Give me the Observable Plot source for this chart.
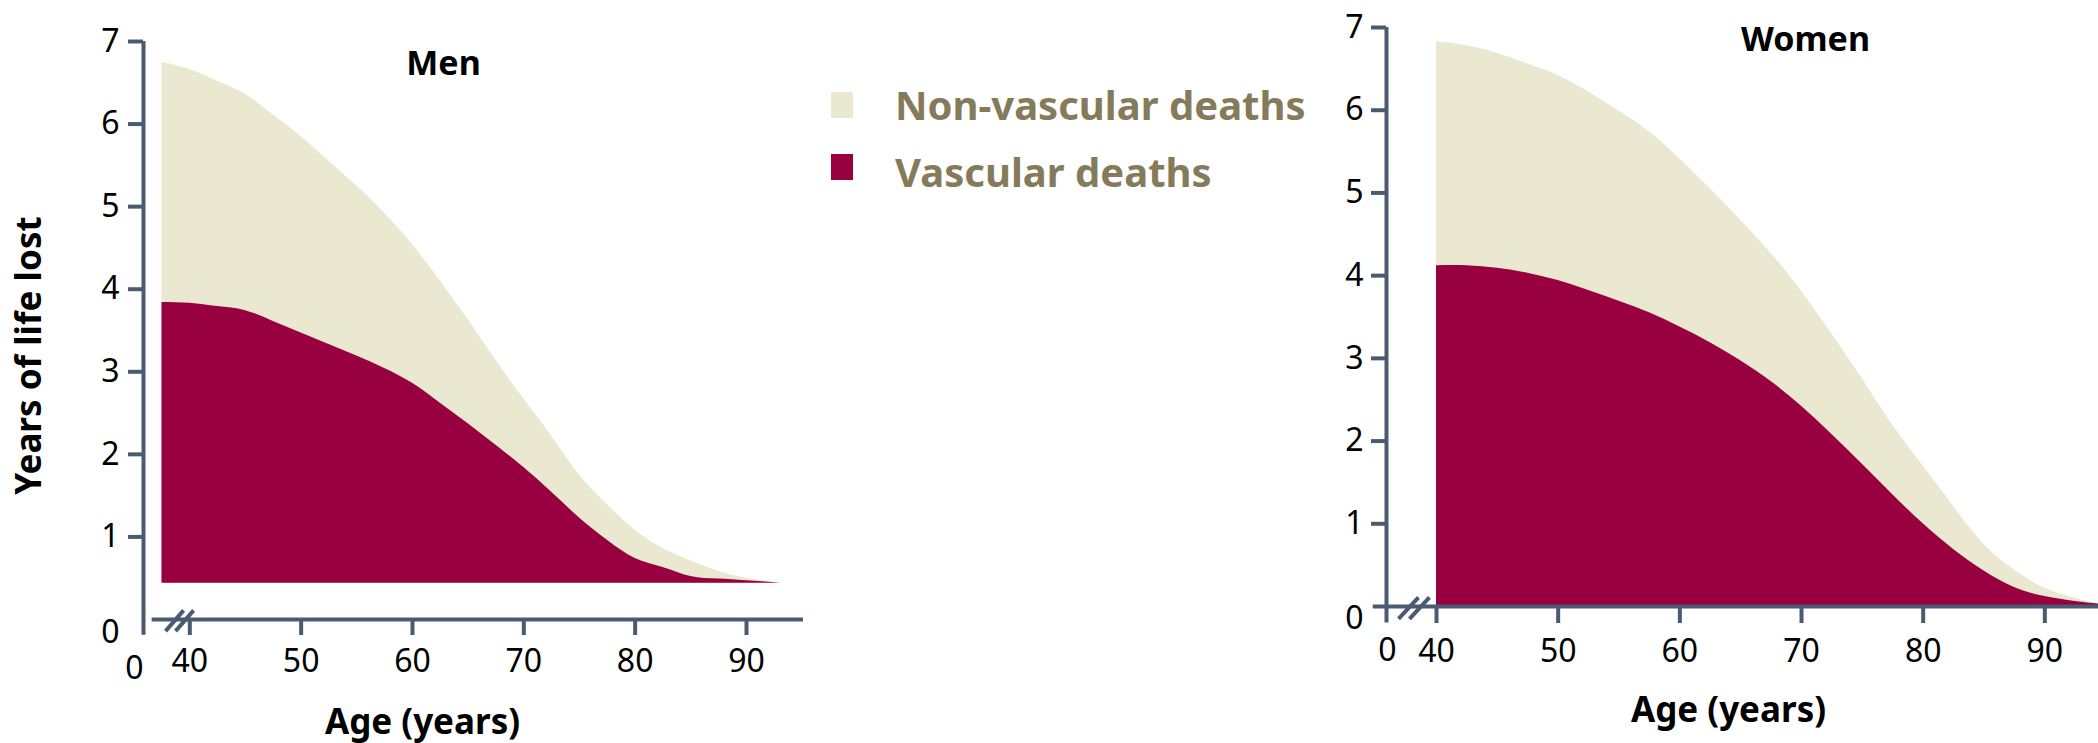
<!DOCTYPE html>
<html>
<head>
<meta charset="utf-8">
<script src="https://cdn.jsdelivr.net/npm/d3@7"></script>
<script src="https://cdn.jsdelivr.net/npm/@observablehq/plot@0.6"></script>
<style>
html, body { margin: 0; padding: 0; background: #fff; }
#root { position: relative; width: 2098px; height: 743px; overflow: hidden; font-family: "Noto Sans", sans-serif; }
#men { position: absolute; left: 0; top: 0; width: 830px; height: 743px; }
#women { position: absolute; left: 1300px; top: 0; width: 798px; height: 743px; }
.legsq { position: absolute; left: 831px; width: 22px; height: 26px; }
.legtx { position: absolute; left: 895px; font-size: 40px; line-height: 40px; font-weight: bold; color: #857b5a; white-space: nowrap; }
</style>
</head>
<body>
<div id="root">
  <div id="men"></div>
  <div id="legend"></div>
  <div id="women"></div>
</div>
<script>
// ---- data ----
const seriesNames = ["Non-vascular deaths", "Vascular deaths"];
const seriesColors = ["#eae8d0", "#98003f"];
const panelTitles = ["Men", "Women"];
const yTicks = [1, 2, 3, 4, 5, 6, 7];
const xTicks = [40, 50, 60, 70, 80, 90];

const menAges =     [37.5, 40, 42.5, 45, 47.5, 50, 52.5, 55, 57.5, 60, 62.5, 65, 67.5, 70, 72.5, 75, 77.5, 80, 82.5, 85, 87.5, 90, 93.1];
const menTotal =    [6.75, 6.66, 6.52, 6.36, 6.11, 5.85, 5.55, 5.25, 4.92, 4.54, 4.10, 3.63, 3.14, 2.67, 2.22, 1.75, 1.39, 1.08, 0.86, 0.71, 0.58, 0.50, 0.44];
const menVascular = [3.84, 3.83, 3.79, 3.74, 3.61, 3.47, 3.33, 3.19, 3.04, 2.86, 2.62, 2.37, 2.11, 1.84, 1.54, 1.23, 0.96, 0.74, 0.63, 0.52, 0.49, 0.47, 0.44];
const menBaseline = 0.44;

const womenAges =     [40, 42.5, 45, 47.5, 50, 52.5, 55, 57.5, 60, 62.5, 65, 67.5, 70, 72.5, 75, 77.5, 80, 82.5, 85, 87.5, 90, 92.5, 94.4];
const womenTotal =    [6.83, 6.78, 6.69, 6.56, 6.42, 6.22, 5.99, 5.74, 5.41, 5.05, 4.67, 4.27, 3.81, 3.29, 2.75, 2.19, 1.70, 1.21, 0.75, 0.44, 0.22, 0.10, 0.03];
const womenVascular = [4.12, 4.12, 4.09, 4.03, 3.94, 3.82, 3.69, 3.55, 3.38, 3.19, 2.97, 2.72, 2.42, 2.08, 1.72, 1.35, 1.00, 0.69, 0.43, 0.23, 0.12, 0.06, 0.03];
const womenBaseline = 0;

// ---- styling ----
const axisColor = "#4a5a72";
const FONT = "Noto Sans";

function buildPanel(c) {
  const rows = c.ages.map((a, i) => ({age: a, total: c.total[i], vasc: c.vasc[i], base: c.base}));
  const txt = (s, o) => Plot.text([s], {text: d => d, fontFamily: FONT, fill: "black", lineAnchor: "middle", textAnchor: "middle", ...o});
  const marks = [
    Plot.areaY(rows, {x: "age", y1: "base", y2: "total", fill: seriesColors[0], curve: "natural"}),
    Plot.areaY(rows, {x: "age", y1: "base", y2: "vasc", fill: seriesColors[1], curve: "natural"}),
    Plot.ruleX([c.xDomain[0]], {y1: 7, y2: c.yAxisLow, stroke: axisColor, strokeWidth: 4}),
    Plot.ruleY([0], {x1: c.xAxisStart, x2: c.xDomain[1], stroke: axisColor, strokeWidth: 4}),
    Plot.link(c.breaks, {x1: d => d, x2: d => d + c.breakW, y1: c.breakY[0], y2: c.breakY[1], stroke: axisColor, strokeWidth: 4}),
    Plot.axisY(yTicks, {anchor: "left", tickSize: 15, tickPadding: c.yPad, tickFormat: d => String(d), stroke: axisColor, strokeWidth: 4, fontSize: 32, fontFamily: FONT, fill: "black", label: null}),
    Plot.axisX(xTicks, {anchor: "bottom", tickSize: c.xTick, tickPadding: c.xPad, tickFormat: d => String(d), stroke: axisColor, strokeWidth: 4, fontSize: 32, fontFamily: FONT, fill: "black", label: null}),
    txt("0", {frameAnchor: "bottom-left", textAnchor: "end", dx: c.y0[0], dy: c.y0[1], fontSize: 32}),
    txt("0", {frameAnchor: "bottom-left", dx: c.x0[0], dy: c.x0[1], fontSize: 32}),
    txt(c.title, {frameAnchor: "top", dx: c.titlePos[0], dy: c.titlePos[1], fontSize: 34, fontWeight: "bold"}),
    txt("Age (years)", {frameAnchor: "bottom", dx: c.agePos[0], dy: c.agePos[1], fontSize: 35, fontWeight: "bold"})
  ];
  if (c.yLabel) marks.push(txt(c.yLabel, {frameAnchor: "left", rotate: -90, dx: c.yLabelPos[0], dy: c.yLabelPos[1], fontSize: 35, fontWeight: "bold"}));
  return Plot.plot({
    width: c.width, height: 743,
    marginLeft: c.ml, marginRight: c.mr, marginTop: c.mt, marginBottom: c.mb,
    x: {domain: c.xDomain, label: null},
    y: {domain: [0, 7], label: null},
    style: {fontFamily: FONT, color: "black", background: "transparent", overflow: "visible"},
    marks
  });
}

document.getElementById("men").appendChild(buildPanel({
  ages: menAges, total: menTotal, vasc: menVascular, base: menBaseline,
  width: 830, ml: 143, mr: 27, mt: 41, mb: 124,
  xDomain: [35.84, 95.12], xAxisStart: 36.62, yAxisLow: -0.19,
  breaks: [37.82, 38.72], breakW: 1.62, breakY: [-0.14, 0.11],
  yPad: 9, xTick: 16, xPad: 14,
  y0: [-24, 13], x0: [-9, 49],
  title: panelTitles[0], titlePos: [-30, 23],
  agePos: [-51, 103],
  yLabel: "Years of life lost", yLabelPos: [-114, 25]
}));

document.getElementById("women").appendChild(buildPanel({
  ages: womenAges, total: womenTotal, vasc: womenVascular, base: womenBaseline,
  width: 798, ml: 86, mr: 0, mt: 27, mb: 137,
  xDomain: [35.89, 94.41], xAxisStart: 34.8, yAxisLow: -0.2,
  breaks: [36.88, 37.78], breakW: 1.64, breakY: [-0.15, 0.11],
  yPad: 8, xTick: 17, xPad: 16,
  y0: [-23, 12], x0: [1, 44],
  title: panelTitles[1], titlePos: [63, 13],
  agePos: [-14, 104]
}));

// legend (HTML, placed beside the charts)
const legend = document.getElementById("legend");
const legSqTop = [92, 154];
const legTxTop = [85, 152];
seriesNames.forEach((name, i) => {
  const sq = document.createElement("div");
  sq.className = "legsq";
  sq.style.top = legSqTop[i] + "px";
  sq.style.background = seriesColors[i];
  legend.appendChild(sq);
  const tx = document.createElement("div");
  tx.className = "legtx";
  tx.style.top = legTxTop[i] + "px";
  tx.textContent = name;
  legend.appendChild(tx);
});
</script>
</body>
</html>
